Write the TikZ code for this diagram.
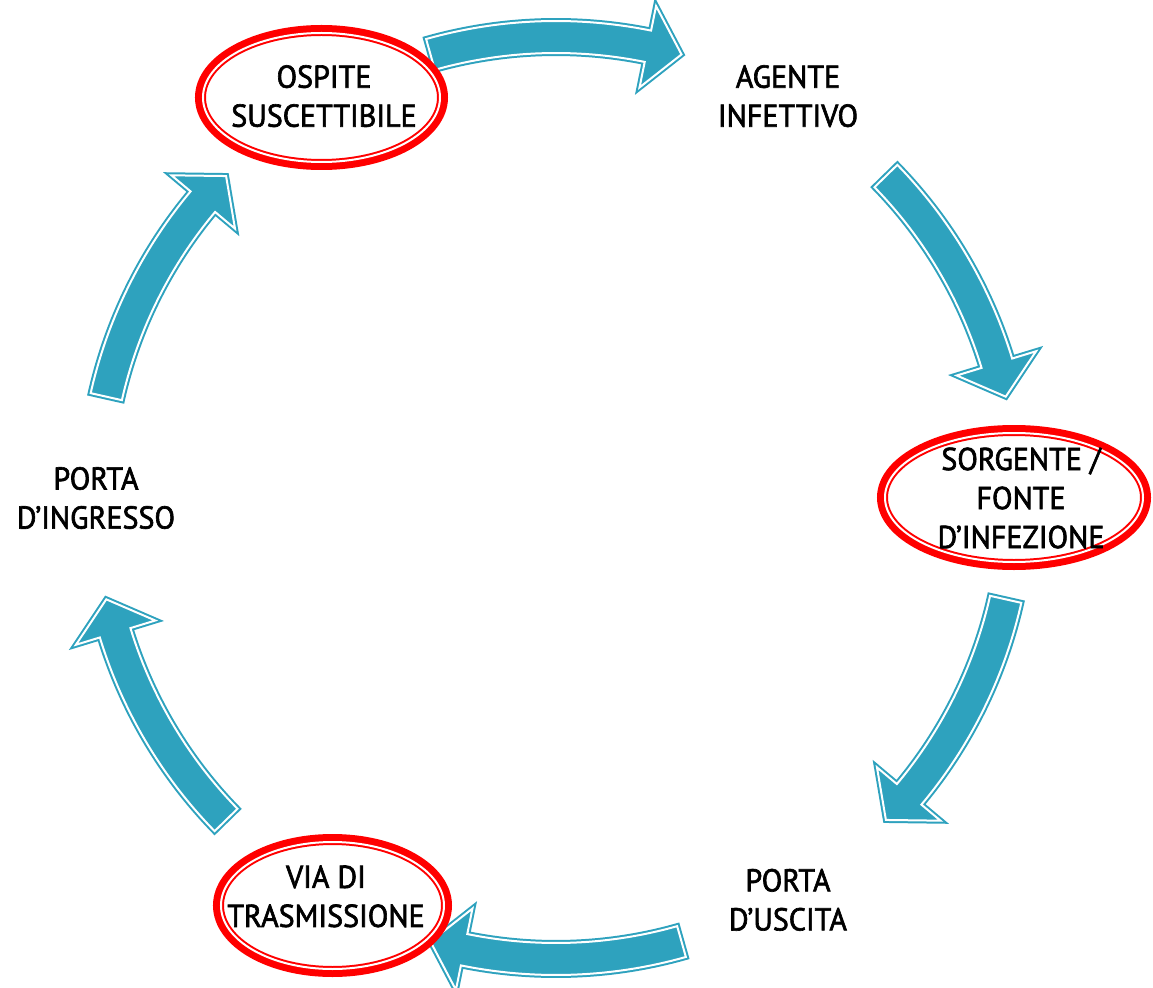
\documentclass[tikz,border=0pt]{standalone}
\usepackage{fontspec}
\setmainfont{PT Sans}[FakeBold=2,FakeStretch=0.95]
\usetikzlibrary{shapes.geometric}
\definecolor{freccia}{RGB}{46,162,190}
\begin{document}
\begin{tikzpicture}[line join=miter]
    \tikzstyle{voce}=[align=center,font=\fontsize{18}{22.2}\selectfont,inner sep=0pt]
    \tikzstyle{anello}=[ellipse,fill=white,draw=red,line width=0.04cm,
                        double=white,double distance=0.04cm,
                        preaction={draw=red,line width=0.32cm},
                        minimum height=2.58cm,inner sep=0pt]
    \tikzstyle{blocco}=[fill=freccia,draw=freccia,line width=0.04cm,
                        double=white,double distance=0.04cm]
    \useasboundingbox (-11.12,-9.78) rectangle (11.94,9.96);

    % curved arrows of the cycle
    \foreach \a in {90,28.5,-28.5,-90,-151.5,151.5}
        \draw[blocco] (\a+15.8:8.9) arc[start angle=\a+15.8,end angle=\a-11.5,radius=8.9cm]
            -- (\a-11.5:8.38) -- (\a-15.8:9.22) -- (\a-11.5:10.04) -- (\a-11.5:9.54)
            arc[start angle=\a-11.5,end angle=\a+15.8,radius=9.54cm] -- cycle;

    % red rings
    \node[anello,minimum width=4.74cm] (ospite anello) at (-4.69,8.01) {};
    \node[anello,minimum width=5.16cm] (sorgente anello) at (9.16,0.01) {};
    \node[anello,minimum width=4.46cm,minimum height=2.54cm] (via anello) at (-4.47,-8.15) {};

    \node[voce] (ospite) at (120:9.28) {OSPITE\\SUSCETTIBILE};
    \node[voce] (agente) at (60:9.28) {AGENTE\\INFETTIVO};
    \node[voce] (sorgente) at (0:9.3) {SORGENTE /\\FONTE\\D’INFEZIONE};
    \node[voce] (uscita) at (-60:9.28) {PORTA\\D’USCITA};
    \node[voce] (via) at (-120:9.2) {VIA DI\\TRASMISSIONE};
    \node[voce] (ingresso) at (180:9.2) {PORTA\\D’INGRESSO};
\end{tikzpicture}
\end{document}
